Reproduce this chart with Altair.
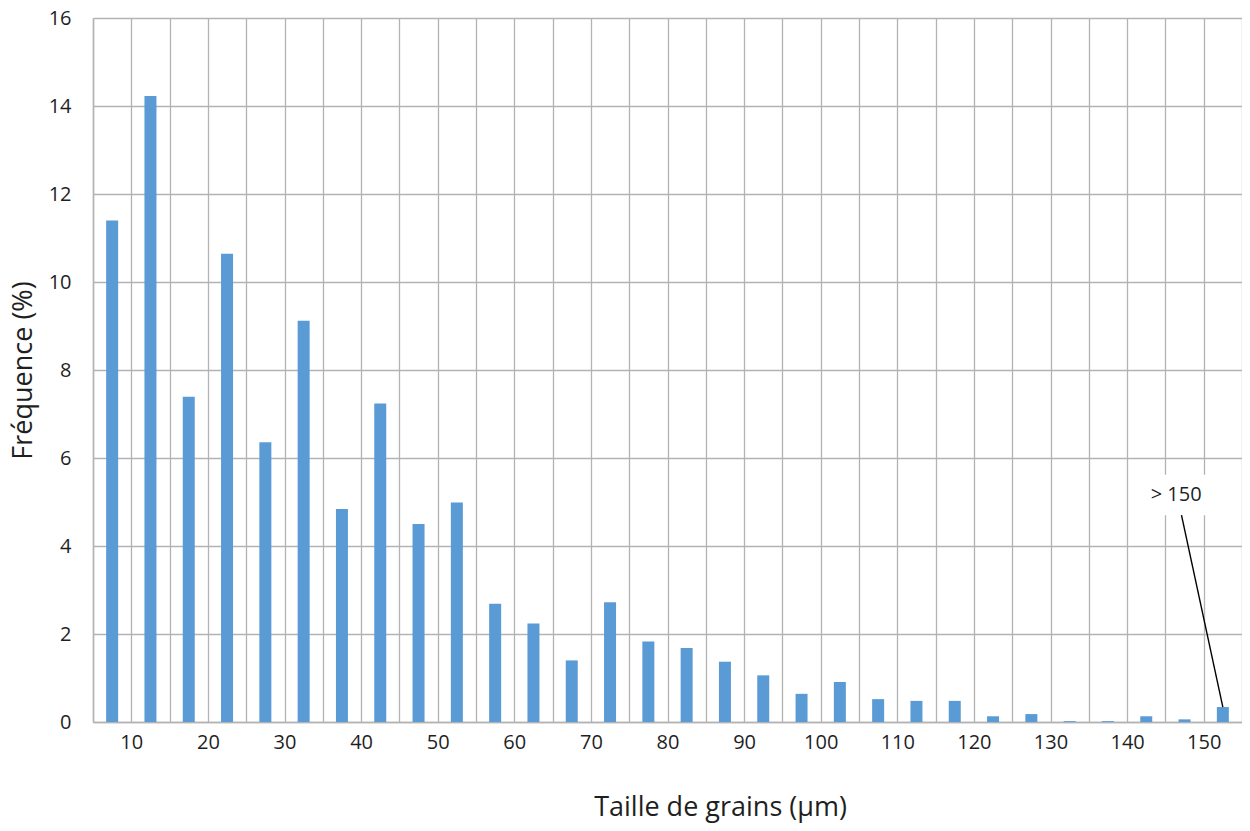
import altair as alt
import pandas as pd

# ---- data ----
bin_start = [5, 10, 15, 20, 25, 30, 35, 40, 45, 50, 55, 60, 65, 70, 75,
             80, 85, 90, 95, 100, 105, 110, 115, 120, 125, 130, 135, 140, 145, 150]
frequency = [11.40, 14.23, 7.39, 10.64, 6.36, 9.12, 4.84, 7.24, 4.50, 4.99,
             2.69, 2.24, 1.40, 2.72, 1.83, 1.68, 1.37, 1.06, 0.64, 0.91,
             0.52, 0.48, 0.48, 0.13, 0.18, 0.02, 0.02, 0.13, 0.06, 0.34]
bin_width = 5
x_tick_values = [5, 10, 15, 20, 25, 30, 35, 40, 45, 50, 55, 60, 65, 70, 75, 80,
                 85, 90, 95, 100, 105, 110, 115, 120, 125, 130, 135, 140, 145, 150, 155]
y_tick_values = [0, 2, 4, 6, 8, 10, 12, 14, 16]

# annotation ("> 150" callout), in data units
annot_text = ["> 150"]
annot_label_x = [146.4]
annot_label_y = [5.17]
annot_box_x = [141.3]
annot_box_x2 = [150.6]
annot_box_y = [4.70]
annot_box_y2 = [5.62]
annot_line_x = [147.1]
annot_line_y = [4.70]
annot_tip_x = [152.5]
annot_tip_y = [0.34]

df = pd.DataFrame({"start": bin_start, "freq": frequency})
df["mid"] = df["start"] + bin_width / 2

box_df = pd.DataFrame({"mid": annot_box_x, "mid2": annot_box_x2,
                       "freq": annot_box_y, "freq2": annot_box_y2})
line_df = pd.DataFrame({"mid": annot_line_x, "mid2": annot_tip_x,
                        "freq": annot_line_y, "freq2": annot_tip_y})
text_df = pd.DataFrame({"mid": annot_label_x, "freq": annot_label_y, "text": annot_text})

FONT = "Open Sans"
GRID = "#b3b3b3"
TXT = "#1f1f1f"

xscale = alt.Scale(domain=[5, 155], nice=False, zero=False, padding=0)
yscale = alt.Scale(domain=[0, 16], nice=False, zero=True)

xaxis = alt.Axis(
    values=x_tick_values, tickCount=100, format="d",
    labelExpr="datum.value % 10 === 0 ? datum.label : ''",
    title="Taille de grains (µm)",
    grid=True, gridColor=GRID, gridWidth=1.3,
    ticks=False, domainColor=GRID, domainWidth=1.5,
    labelFontSize=20, labelColor=TXT, labelPadding=10, labelFont=FONT,
    labelOverlap=False, labelFlush=False,
    titleFontSize=27, titleFontWeight="normal", titleColor=TXT, titleFont=FONT,
    titleX=627, titleY=93, titleAlign="center", titleBaseline="alphabetic",
)
yaxis = alt.Axis(
    values=y_tick_values, tickCount=100, format="d",
    title="Fréquence (%)",
    grid=True, gridColor=GRID, gridWidth=1.3,
    ticks=False, domainColor=GRID, domainWidth=1.5,
    labelFontSize=20, labelColor=TXT, labelPadding=22, labelFont=FONT,
    titleFontSize=27, titleFontWeight="normal", titleColor=TXT, titleFont=FONT,
    titlePadding=11,
)

bars = alt.Chart(df).mark_bar(width=12, color="#5B9BD5").encode(
    x=alt.X("mid:Q", scale=xscale, axis=xaxis),
    y=alt.Y("freq:Q", scale=yscale, axis=yaxis),
)

box = alt.Chart(box_df).mark_rect(color="white").encode(
    x=alt.X("mid:Q"), x2="mid2:Q", y=alt.Y("freq:Q"), y2="freq2:Q",
)
line = alt.Chart(line_df).mark_rule(color="black", strokeWidth=1.4).encode(
    x=alt.X("mid:Q"), x2="mid2:Q", y=alt.Y("freq:Q"), y2="freq2:Q",
)
label = alt.Chart(text_df).mark_text(font=FONT, fontSize=20, color=TXT,
                                     align="center", baseline="middle").encode(
    x=alt.X("mid:Q"), y=alt.Y("freq:Q"), text="text:N",
)

chart = alt.layer(bars, box, line, label).properties(
    width=1149, height=704,
    padding={"left": 85, "top": 10, "right": 0, "bottom": 101},
    autosize=alt.AutoSizeParams(type="none"),
).configure_view(stroke=None).configure(background="white")

chart.save("out.html", embed_options={"renderer": "svg", "actions": False})
